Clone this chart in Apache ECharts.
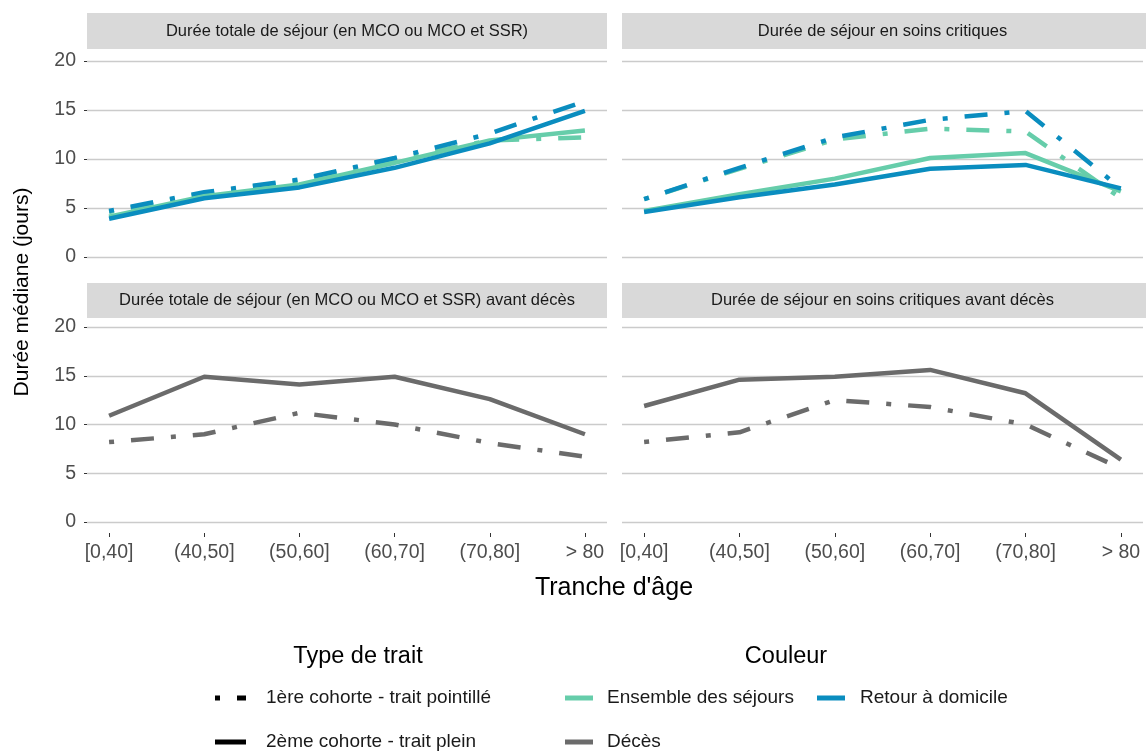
<!DOCTYPE html>
<html><head><meta charset="utf-8">
<script src="https://cdn.jsdelivr.net/npm/echarts@6/dist/echarts.min.js"></script>
<style>html,body{margin:0;padding:0;background:#fff}#c{width:1146px;height:751px}</style>
</head><body><div id="c"></div>
<script>
// ---------- DATA ----------
const categories = ['[0,40]', '(40,50]', '(50,60]', '(60,70]', '(70,80]', '> 80'];
const yTickValues = [0, 5, 10, 15, 20];
const panelTitles = [
  'Durée totale de séjour (en MCO ou MCO et SSR)',
  'Durée de séjour en soins critiques',
  'Durée totale de séjour (en MCO ou MCO et SSR) avant décès',
  'Durée de séjour en soins critiques avant décès'
];
// Panel 1 : durée totale
const totEnsembleC1 = [4.6, 6.5, 7.8, 10.0, 11.9, 12.2];
const totRetourC1   = [4.7, 6.6, 7.9, 10.1, 12.6, 15.9];
const totEnsembleC2 = [4.1, 6.2, 7.4, 9.6, 11.9, 12.9];
const totRetourC2   = [3.9, 6.0, 7.1, 9.1, 11.6, 14.9];
// Panel 2 : soins critiques
const critEnsembleC1 = [5.9, 9.0, 12.0, 13.1, 12.8, 6.0];
const critRetourC1   = [5.9, 9.1, 12.2, 14.0, 14.9, 7.0];
const critEnsembleC2 = [4.7, 6.4, 8.0, 10.1, 10.6, 6.7];
const critRetourC2   = [4.6, 6.1, 7.4, 9.0, 9.4, 7.0];
// Panel 3 : durée totale avant décès
const totDecesC1 = [8.2, 9.0, 11.2, 10.0, 8.1, 6.7];
const totDecesC2 = [10.9, 14.9, 14.1, 14.9, 12.6, 9.0];
// Panel 4 : soins critiques avant décès
const critDecesC1 = [8.2, 9.2, 12.5, 11.8, 10.0, 5.5];
const critDecesC2 = [11.9, 14.6, 14.9, 15.6, 13.2, 6.4];

const legendLineTypes = ['1ère cohorte - trait pointillé', '2ème cohorte - trait plein'];
const legendColours = ['Ensemble des séjours', 'Retour à domicile', 'Décès'];

// ---------- STYLE ----------
const GREEN = '#66cdaa', BLUE = '#0a8dbf', GREY = '#6b6b6b';
const DOTDASH = [5, 17, 23, 17];
const FONT = 'Liberation Sans';
const LW = 4.5;

const grids = [
  {left: 87, top: 61, width: 520, height: 196},
  {left: 622, top: 61, width: 521, height: 196},
  {left: 87, top: 327, width: 520, height: 195},
  {left: 622, top: 327, width: 521, height: 195}
];
const strips = [
  {x: 87, y: 13, w: 520, h: 36},
  {x: 622, y: 13, w: 524, h: 36},
  {x: 87, y: 283, w: 520, h: 35},
  {x: 622, y: 283, w: 524, h: 35}
];
const idx = categories.map((c, i) => i);

const xAxes = grids.map((g, i) => {
  const bottom = i >= 2;
  return {
    gridIndex: i, type: 'value', min: -0.232, max: 5.232,
    offset: bottom ? 11 : 0,
    splitLine: {show: false}, axisLine: {show: false, onZero: false},
    axisTick: {show: bottom, customValues: idx, length: 4, lineStyle: {color: '#333', width: 1}},
    axisLabel: {show: bottom, customValues: idx, formatter: v => categories[Math.round(v)],
      fontFamily: FONT, fontSize: 19.5, color: '#4d4d4d', margin: 10}
  };
});
const yAxes = grids.map((g, i) => {
  const left = i % 2 === 0;
  return {
    gridIndex: i, type: 'value', min: yTickValues[0], max: yTickValues[yTickValues.length - 1], interval: 5,
    splitLine: {show: true, lineStyle: {color: '#cbcbcb', width: 1.4}},
    axisLine: {show: false, onZero: false},
    axisTick: {show: left, length: 3, lineStyle: {color: '#333', width: 1}},
    axisLabel: {show: left, fontFamily: FONT, fontSize: 19.5, color: '#4d4d4d', margin: 11}
  };
});

function line(name, gi, arr, color, dashed) {
  return {
    name: name, type: 'line', xAxisIndex: gi, yAxisIndex: gi,
    data: arr.map((v, i) => [i, v]), symbol: 'none', silent: true,
    lineStyle: {color: color, width: LW, type: dashed ? DOTDASH : 'solid', cap: 'butt', join: 'round'},
    z: 2
  };
}
const series = [
  line('Ensemble C1', 0, totEnsembleC1, GREEN, true),
  line('Retour C1', 0, totRetourC1, BLUE, true),
  line('Ensemble C2', 0, totEnsembleC2, GREEN, false),
  line('Retour C2', 0, totRetourC2, BLUE, false),
  line('Ensemble C1', 1, critEnsembleC1, GREEN, true),
  line('Retour C1', 1, critRetourC1, BLUE, true),
  line('Ensemble C2', 1, critEnsembleC2, GREEN, false),
  line('Retour C2', 1, critRetourC2, BLUE, false),
  line('Décès C1', 2, totDecesC1, GREY, true),
  line('Décès C2', 2, totDecesC2, GREY, false),
  line('Décès C1', 3, critDecesC1, GREY, true),
  line('Décès C2', 3, critDecesC2, GREY, false)
];

const graphic = [];
strips.forEach((s, i) => {
  graphic.push({type: 'rect', shape: {x: s.x, y: s.y, width: s.w, height: s.h}, style: {fill: '#d9d9d9'}, silent: true});
  graphic.push({type: 'text', x: grids[i].left + grids[i].width / 2, y: s.y + s.h / 2,
    style: {text: panelTitles[i], fontFamily: FONT, fontSize: 16.5, fill: '#1a1a1a', align: 'center', verticalAlign: 'middle'}});
});
graphic.push({type: 'text', x: 22, y: 292, rotation: Math.PI / 2,
  style: {text: 'Durée médiane (jours)', fontFamily: FONT, fontSize: 21, fill: '#000', align: 'center', verticalAlign: 'middle'}});
graphic.push({type: 'text', x: 614, y: 588,
  style: {text: "Tranche d'âge", fontFamily: FONT, fontSize: 25, fill: '#000', align: 'center', verticalAlign: 'middle'}});
// legend: line type
graphic.push({type: 'text', x: 358, y: 657, style: {text: 'Type de trait', fontFamily: FONT, fontSize: 23.5, fill: '#000', align: 'center', verticalAlign: 'middle'}});
graphic.push({type: 'polyline', shape: {points: [[215, 698], [246, 698]]}, style: {stroke: '#000', lineWidth: 5, lineDash: DOTDASH, lineCap: 'butt'}});
graphic.push({type: 'polyline', shape: {points: [[215, 742], [246, 742]]}, style: {stroke: '#000', lineWidth: 5, lineCap: 'butt'}});
graphic.push({type: 'text', x: 266, y: 698, style: {text: legendLineTypes[0], fontFamily: FONT, fontSize: 19, fill: '#1a1a1a', align: 'left', verticalAlign: 'middle'}});
graphic.push({type: 'text', x: 266, y: 742, style: {text: legendLineTypes[1], fontFamily: FONT, fontSize: 19, fill: '#1a1a1a', align: 'left', verticalAlign: 'middle'}});
// legend: colour
graphic.push({type: 'text', x: 786, y: 657, style: {text: 'Couleur', fontFamily: FONT, fontSize: 23.5, fill: '#000', align: 'center', verticalAlign: 'middle'}});
const colKeys = [{x: 565, y: 698, c: GREEN, tx: 607}, {x: 817, y: 698, c: BLUE, tx: 860}, {x: 565, y: 742, c: GREY, tx: 607}];
colKeys.forEach((k, i) => {
  graphic.push({type: 'polyline', shape: {points: [[k.x, k.y], [k.x + 28, k.y]]}, style: {stroke: k.c, lineWidth: 5, lineCap: 'butt'}});
  graphic.push({type: 'text', x: k.tx, y: k.y, style: {text: legendColours[i], fontFamily: FONT, fontSize: 19, fill: '#1a1a1a', align: 'left', verticalAlign: 'middle'}});
});

const chart = echarts.init(document.getElementById('c'), null, {renderer: 'canvas'});
chart.setOption({
  animation: false,
  backgroundColor: '#ffffff',
  textStyle: {fontFamily: FONT},
  grid: grids,
  xAxis: xAxes,
  yAxis: yAxes,
  series: series,
  graphic: graphic
});
</script></body></html>
